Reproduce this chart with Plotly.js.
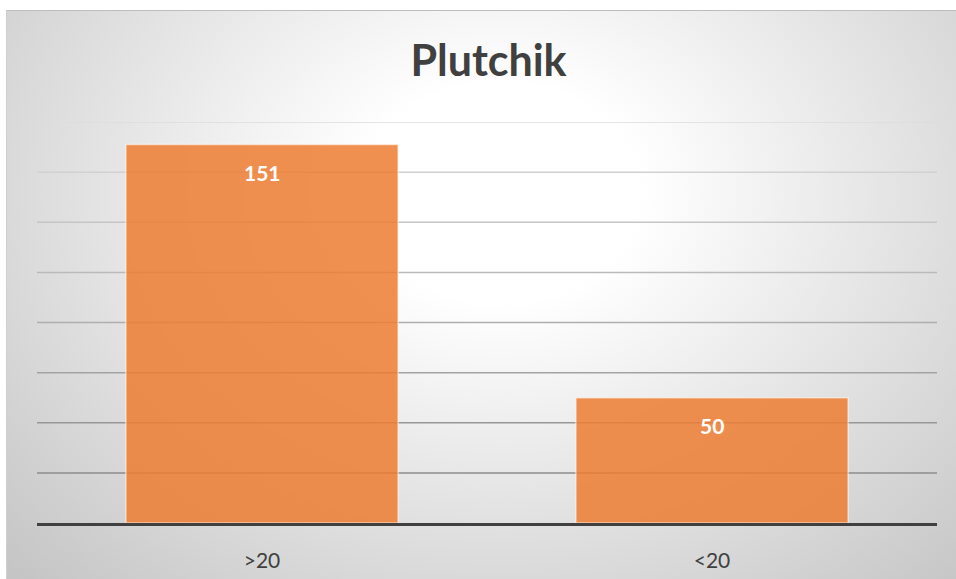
<!DOCTYPE html>
<html>
<head>
<meta charset="utf-8">
<script src="https://cdn.plot.ly/plotly-3.0.1.min.js"></script>
<style>
  html, body { margin: 0; padding: 0; background: #ffffff; }
  #bg {
    position: absolute; left: 6px; top: 10px; width: 950px; height: 569px;
    background: radial-gradient(ellipse farthest-corner at 52% 32%, #ffffff 0%, #ffffff 20%, #c4c4c4 100%);
    border-top: 1px solid #bdbdbd; border-left: 1px solid #cfcfcf;
    box-sizing: border-box;
  }
  #chart { position: absolute; left: 0; top: 0; width: 956px; height: 579px; }
</style>
</head>
<body>
<div id="bg"></div>
<div id="chart"></div>
<script>
const categories = [">20", "<20"];
const values = [151, 50];
const gridValues = [20, 40, 60, 80, 100, 120, 140, 160];

const gridShapes = gridValues.map((v, i) => {
  const t = i / (gridValues.length - 1); // 0 bottom -> 1 top
  const g = Math.round(140 + t * 80);
  return {
    type: 'line', xref: 'paper', yref: 'y', x0: 0, x1: 1, y0: v, y1: v,
    line: { color: `rgb(${g},${g},${g})`, width: 1.5 }, layer: 'below'
  };
});

const annotations = categories.map((c, i) => ({
  x: c, y: values[i], xref: 'x', yref: 'y', text: '<b>' + values[i] + '</b>',
  showarrow: false, yshift: -28,
  font: { family: 'Lato, "Open Sans", sans-serif', size: 21, color: '#ffffff' }
}));

const trace = {
  type: 'bar', x: categories, y: values, width: 0.605,
  marker: { color: 'rgba(237,125,49,0.85)', line: { color: 'rgba(255,255,255,0.55)', width: 1.5 } },
  hoverinfo: 'none'
};

const layout = {
  width: 956, height: 579,
  paper_bgcolor: 'rgba(0,0,0,0)', plot_bgcolor: 'rgba(0,0,0,0)',
  margin: { l: 37, r: 19, t: 122, b: 56 },
  title: {
    text: '<b>Plutchik</b>', x: 0.511, xanchor: 'center', y: 0.895, yanchor: 'middle',
    font: { family: 'Lato, "Open Sans", sans-serif', size: 43, color: '#404040' }
  },
  xaxis: {
    showgrid: false, zeroline: false, showline: true, linecolor: '#404040', linewidth: 3,
    ticks: '', ticklabelstandoff: 17,
    tickfont: { family: 'Lato, "Open Sans", sans-serif', size: 21, color: '#404040' }
  },
  yaxis: {
    range: [0, 160], showgrid: false, zeroline: false, showticklabels: false, ticks: '',
    fixedrange: true
  },
  shapes: gridShapes,
  annotations: annotations,
  showlegend: false
};

Plotly.newPlot('chart', [trace], layout, { displayModeBar: false, staticPlot: true });
</script>
</body>
</html>
